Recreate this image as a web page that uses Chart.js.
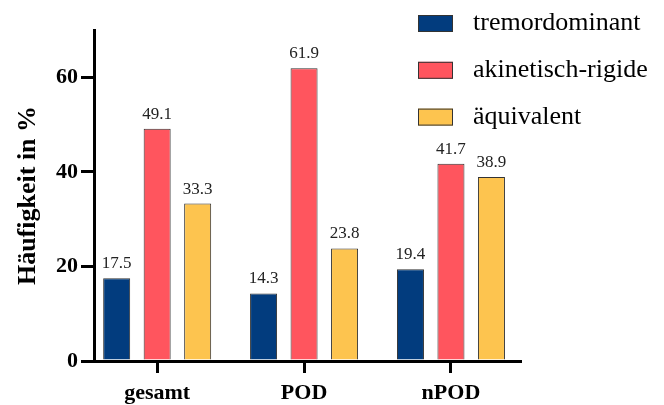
<!DOCTYPE html>
<html>
<head>
<meta charset="utf-8">
<script src="https://cdn.jsdelivr.net/npm/chart.js@4/dist/chart.umd.min.js"></script>
<style>
  html, body { margin: 0; padding: 0; background: #fff; }
  #wrap { width: 664px; height: 405px; }
</style>
</head>
<body>
<div id="wrap"><canvas id="myChart" width="664" height="405"></canvas></div>
<script>
// Daten
var categories = ["gesamt", "POD", "nPOD"];
var seriesNames = ["tremordominant", "akinetisch-rigide", "äquivalent"];
var tremordominant = [17.5, 14.3, 19.4];
var akinetisch = [49.1, 61.9, 41.7];
var aequivalent = [33.3, 23.8, 38.9];
var yTicks = [0, 20, 40, 60];

var colors = ["#023c7e", "#ff555e", "#fdc44f"];
var serif = '"Liberation Serif", "DejaVu Serif", serif';

function points(arr) {
    return arr.map(function (v, i) { return { x: i, y: v }; });
}

var data = {
    datasets: [tremordominant, akinetisch, aequivalent].map(function (arr, i) {
        return {
            label: seriesNames[i],
            data: points(arr),
            backgroundColor: colors[i],
            borderColor: "#333",
            borderWidth: 1,
            borderSkipped: "bottom",
            categoryPercentage: 0.827,
            barPercentage: 0.667
        };
    })
};

// Werte über den Balken
var valueLabels = {
    id: "valueLabels",
    afterDatasetsDraw: function (chart) {
        var ctx = chart.ctx;
        ctx.save();
        ctx.font = "17px " + serif;
        ctx.fillStyle = "#222";
        ctx.textAlign = "center";
        ctx.textBaseline = "bottom";
        chart.data.datasets.forEach(function (ds, d) {
            chart.getDatasetMeta(d).data.forEach(function (bar, i) {
                ctx.fillText(ds.data[i].y.toFixed(1), bar.x, bar.y - 6);
            });
        });
        ctx.restore();
    }
};

// Legende oben rechts, im Diagrammbereich
var boxLegend = {
    id: "boxLegend",
    afterDraw: function (chart) {
        var ctx = chart.ctx;
        var x0 = chart.chartArea.right - 102;
        ctx.save();
        ctx.font = "26px " + serif;
        ctx.textBaseline = "middle";
        chart.data.datasets.forEach(function (ds, i) {
            var yc = 23.5 + i * 46.8;
            ctx.fillStyle = ds.backgroundColor;
            ctx.fillRect(x0, yc - 8.5, 35, 17);
            ctx.strokeStyle = "#333";
            ctx.lineWidth = 1;
            ctx.strokeRect(x0 + 0.5, yc - 8, 34, 16);
            ctx.fillStyle = "#000";
            ctx.fillText(ds.label, x0 + 55, yc);
        });
        ctx.restore();
    }
};

var ctx = document.getElementById("myChart").getContext("2d");
const chart = new Chart(ctx, {
    type: "bar",
    data: data,
    plugins: [valueLabels, boxLegend],
    options: {
        responsive: false,
        animation: false,
        layout: { padding: { top: 30, right: 144, left: 0, bottom: 0 } },
        plugins: {
            legend: { display: false },
            tooltip: { enabled: false }
        },
        scales: {
            x: {
                type: "linear",
                min: -0.43,
                max: 2.47,
                offset: false,
                afterFit: function (s) { s.height = 44; },
                afterBuildTicks: function (s) {
                    s.ticks = categories.map(function (c, i) { return { value: i }; });
                },
                border: { color: "#000", width: 3 },
                grid: { offset: false, drawOnChartArea: false, color: "#000", lineWidth: 3, tickLength: 12 },
                ticks: {
                    autoSkip: false,
                    maxRotation: 0,
                    padding: 7,
                    color: "#000",
                    font: { family: serif, size: 22, weight: "bold" },
                    callback: function (v) { return categories[v]; }
                }
            },
            y: {
                min: 0,
                max: 70,
                afterFit: function (s) { s.width = 94; },
                afterBuildTicks: function (s) {
                    s.ticks = yTicks.map(function (v) { return { value: v }; });
                },
                border: { color: "#000", width: 3 },
                grid: { drawOnChartArea: false, color: "#000", lineWidth: 3, tickLength: 13 },
                ticks: {
                    padding: 3,
                    color: "#000",
                    font: { family: serif, size: 22, weight: "bold" }
                },
                title: {
                    display: true,
                    text: "Häufigkeit in %",
                    color: "#000",
                    padding: { top: 13, bottom: 0 },
                    font: { family: serif, size: 26, weight: "bold" }
                }
            }
        }
    }
});
</script>
</body>
</html>
